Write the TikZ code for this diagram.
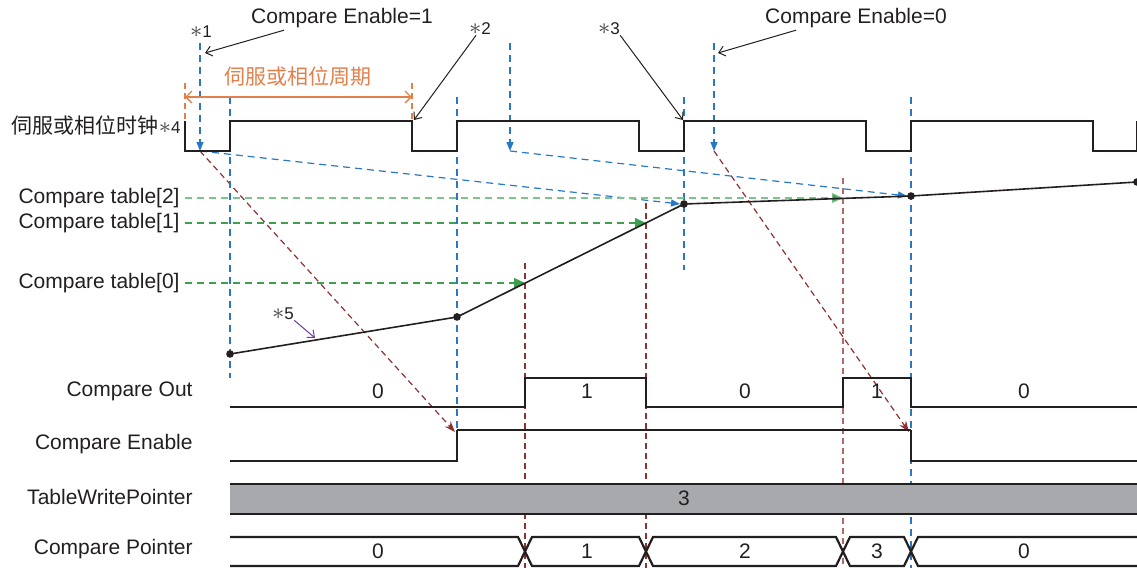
\documentclass[tikz,border=0pt]{standalone}
\usepackage{fontspec}
\setmainfont{Liberation Sans}
\newfontfamily\cjk{Noto Sans CJK SC}
\usetikzlibrary{arrows.meta}

\definecolor{ink}{RGB}{35,31,32}
\definecolor{sampblue}{RGB}{40,120,195}
\definecolor{tabgreen}{RGB}{60,160,80}
\definecolor{tablight}{RGB}{125,195,140}
\definecolor{trigred}{RGB}{140,50,50}
\definecolor{triglight}{RGB}{175,105,105}
\definecolor{perorange}{RGB}{226,128,76}
\definecolor{notepurple}{RGB}{110,60,160}
\definecolor{ptrgray}{RGB}{167,169,172}

\newcommand{\mk}[1]{{\fontsize{8.5}{10}\selectfont\textcolor{ink!80}{\scalebox{1.45}{$\ast$}}#1}}

\tikzset{
  wave/.style={draw=ink, line width=1.1pt},
  curve/.style={draw=ink, line width=0.8pt},
  samp/.style={draw=sampblue, line width=0.6pt, dash pattern=on 3.5pt off 2.5pt},
  sampto/.style={samp, -{Triangle[length=4.5pt,width=3.5pt]}},
  tabline/.style={draw=tabgreen, line width=0.6pt, dash pattern=on 3.5pt off 2.5pt, -{Triangle[length=5.5pt,width=5pt]}},
  trig/.style={draw=trigred, line width=0.6pt, dash pattern=on 3pt off 2pt},
  trigto/.style={trig, -{Stealth[length=5.5pt,width=4pt]}},
  note/.style={draw=ink, line width=0.5pt, -{Straight Barb[length=3pt,width=5pt]}},
  lbl/.style={anchor=east, inner sep=0pt, text=ink},
  val/.style={inner sep=0pt, text=ink}
}

\begin{document}
\begin{tikzpicture}[x=0.5pt, y=-0.5pt, font=\fontsize{10.5}{12.5}\selectfont]
\useasboundingbox (0,0) rectangle (1137,568);

% position curve and its points
\coordinate (P0) at (230,354);
\coordinate (P1) at (457,317);
\coordinate (P2) at (684,204);
\coordinate (P3) at (911,196);
\coordinate (P4) at (1137,182);
\coordinate (q0) at (525,283);
\coordinate (q1) at (646,223);
\coordinate (q2) at (843,198);
\coordinate (s1) at (200,151);
\coordinate (s2) at (510,151);
\coordinate (s3) at (714,151);
\coordinate (ceup) at (457,430);
\coordinate (cedn) at (911,430);

% brown trigger lines
\foreach \q/\c in {q0/trigred, q1/trigred, q2/triglight}
  \draw[trig, draw=\c] ([yshift=10pt]\q) -- (\q |- 0,568);
\draw[trigto] (s1) -- ([shift={(-1pt,-1pt)}]ceup);
\draw[trigto] (s3) -- ([shift={(-1pt,-1pt)}]cedn);

% blue clock edges
\draw[samp] (230,97) -- (230,378);
\draw[samp] (457,97) -- (ceup);
\draw[samp] (684,97) -- (684,270);
\draw[samp] (911,97) -- (911,568);
\foreach \s/\t in {s1/43, s2/43, s3/43}
  \draw[sampto] (\s |- 0,\t) -- (\s);
\draw[sampto] (s1) -- ([xshift=-2pt]P2);
\draw[sampto] (s2) -- ([xshift=-2pt]P3);

% compare table levels
\node[lbl] (t2) at (180,198) {Compare table[2]};
\node[lbl] (t1) at (180,223) {Compare table[1]};
\node[lbl] (t0) at (180,283) {Compare table[0]};
\draw[tabline, draw=tablight, -{Triangle[length=5.5pt,width=5pt,fill=tabgreen]}] ([xshift=2.5pt]t2.east) -- (q2);
\draw[tabline] ([xshift=2.5pt]t1.east) -- (q1);
\draw[tabline] ([xshift=2.5pt]t0.east) -- (q0);

% curve
\draw[curve] (P0) -- (P1) -- (P2) -- (P3) -- (P4);
\foreach \p in {P0,P1,P2,P3,P4}
  \fill[ink] (\p) circle[radius=1.9pt];
\node[val] (n5) at (283,314) {\mk{5}};
\draw[note, draw=notepurple] (n5.south east) -- (315,338);

% servo / phase clock
\node[lbl] (clk) at (181,125) {{\cjk 伺服或相位时钟}\mk{4}};
\draw[wave] (185,121) -- (185,151)
  foreach \k in {0,...,3} { -- ({230+227*\k},151) -- ({230+227*\k},121)
  -- ({412+227*\k},121) -- ({412+227*\k},151) } -- (1137,151) -- (1137,121);

% period
\draw[perorange, line width=0.6pt, dash pattern=on 3pt off 2pt] (185,83) -- (185,119) (412,83) -- (412,119);
\coordinate (pl) at (185,97);
\coordinate (pr) at (412,97);
\draw[perorange, line width=0.7pt, {Straight Barb[length=3pt,width=6pt]}-{Straight Barb[length=3pt,width=6pt]}] (pl) -- (pr);
\node[text=perorange, inner sep=0pt] (per) at (298,77) {\cjk 伺服或相位周期};

% notes on top
\node[val] (ce1) at (342,18) {Compare Enable=1};
\node[val] (ce0) at (856,18) {Compare Enable=0};
\node[val] (n1) at (201,32) {\mk{1}};
\node[val] (n2) at (480,29) {\mk{2}};
\node[val] (n3) at (609,29) {\mk{3}};
\draw[note] ([xshift=-29pt,yshift=-1pt]ce1.south) -- (205,53);
\draw[note] ([xshift=-30pt,yshift=-1pt]ce0.south) -- (718,53);
\draw[note] ([xshift=-2pt]n2.south) -- (414,120);
\draw[note] (n3.south east) -- (683,120);

% Compare Out
\node[lbl] (lco) at (193,391) {Compare Out};
\draw[wave] (230,407) -- (525,407) -- (525,378) -- (646,378) -- (646,407)
  -- (843,407) -- (843,378) -- (911,378) -- (911,407) -- (1137,407);
\foreach \x/\v in {378/0, 587/1, 745/0, 877/1, 1024/0}
  \node[val] at (\x,391) {\v};

% Compare Enable
\node[lbl] (lce) at (193,444) {Compare Enable};
\draw[wave] (230,461) -- (457,461) -- (ceup);
\draw[draw=ink, line width=0.8pt] (ceup) -- (cedn);
\draw[wave] (cedn) -- (911,461) -- (1137,461);

% TableWritePointer
\node[lbl] (ltw) at (193,497) {TableWritePointer};
\fill[ptrgray] (230,484) rectangle (1137,514);
\draw[wave] (230,484) -- (1137,484) (230,514) -- (1137,514);
\node[val] at (684,498) {3};

% Compare Pointer
\node[lbl] (lcp) at (193,549) {Compare Pointer};
\draw[wave] (230,537) -- (518,537) -- (525,551.5) -- (518,566) -- (230,566);
\foreach \a/\b in {525/646, 646/843, 843/911}
  \draw[wave] (\a,551.5) -- (\a+7,537) -- (\b-7,537) -- (\b,551.5) -- (\b-7,566) -- (\a+7,566) -- cycle;
\draw[wave] (1137,537) -- (918,537) -- (911,551.5) -- (918,566) -- (1137,566);
\foreach \x/\v in {378/0, 587/1, 745/2, 877/3, 1024/0}
  \node[val] at (\x,551) {\v};
\end{tikzpicture}
\end{document}
